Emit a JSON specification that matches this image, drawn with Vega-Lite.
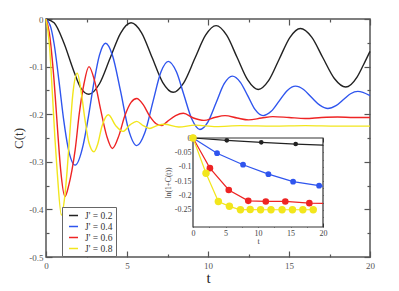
{
  "$schema": "https://vega.github.io/schema/vega-lite/v6.json",
  "width": 324,
  "height": 238,
  "padding": {"left": 46, "top": 19, "right": 29, "bottom": 34},
  "autosize": {"type": "none"},
  "config": {
    "view": {"stroke": "#555", "strokeWidth": 1.5},
    "background": "white"
  },
  "datasets": {
    "main": [
      {"t": 0, "C": 0, "J": "J' = 0.2"}, {"t": 0.5, "C": -0.008, "J": "J' = 0.2"}, {"t": 1.1, "C": -0.05, "J": "J' = 0.2"}, {"t": 1.7, "C": -0.108, "J": "J' = 0.2"}, {"t": 2.15, "C": -0.145, "J": "J' = 0.2"}, {"t": 2.65, "C": -0.158, "J": "J' = 0.2"}, {"t": 3.3, "C": -0.136, "J": "J' = 0.2"}, {"t": 3.95, "C": -0.083, "J": "J' = 0.2"}, {"t": 4.6, "C": -0.03, "J": "J' = 0.2"}, {"t": 5.25, "C": -0.008, "J": "J' = 0.2"}, {"t": 5.9, "C": -0.029, "J": "J' = 0.2"}, {"t": 6.55, "C": -0.081, "J": "J' = 0.2"}, {"t": 7.2, "C": -0.133, "J": "J' = 0.2"}, {"t": 7.85, "C": -0.154, "J": "J' = 0.2"}, {"t": 8.5, "C": -0.134, "J": "J' = 0.2"}, {"t": 9.2, "C": -0.082, "J": "J' = 0.2"}, {"t": 9.85, "C": -0.034, "J": "J' = 0.2"}, {"t": 10.5, "C": -0.014, "J": "J' = 0.2"}, {"t": 11.15, "C": -0.034, "J": "J' = 0.2"}, {"t": 11.8, "C": -0.081, "J": "J' = 0.2"}, {"t": 12.45, "C": -0.128, "J": "J' = 0.2"}, {"t": 13.1, "C": -0.148, "J": "J' = 0.2"}, {"t": 13.75, "C": -0.129, "J": "J' = 0.2"}, {"t": 14.4, "C": -0.084, "J": "J' = 0.2"}, {"t": 15.05, "C": -0.039, "J": "J' = 0.2"}, {"t": 15.7, "C": -0.02, "J": "J' = 0.2"}, {"t": 16.4, "C": -0.038, "J": "J' = 0.2"}, {"t": 17.1, "C": -0.082, "J": "J' = 0.2"}, {"t": 17.8, "C": -0.125, "J": "J' = 0.2"}, {"t": 18.5, "C": -0.143, "J": "J' = 0.2"}, {"t": 19.2, "C": -0.122, "J": "J' = 0.2"}, {"t": 19.6, "C": -0.096, "J": "J' = 0.2"}, {"t": 20, "C": -0.068, "J": "J' = 0.2"},
      {"t": 0, "C": 0, "J": "J' = 0.4"}, {"t": 0.3, "C": -0.018, "J": "J' = 0.4"}, {"t": 0.5, "C": -0.052, "J": "J' = 0.4"}, {"t": 0.8, "C": -0.13, "J": "J' = 0.4"}, {"t": 1.1, "C": -0.214, "J": "J' = 0.4"}, {"t": 1.35, "C": -0.268, "J": "J' = 0.4"}, {"t": 1.8, "C": -0.307, "J": "J' = 0.4"}, {"t": 2.3, "C": -0.264, "J": "J' = 0.4"}, {"t": 2.6, "C": -0.209, "J": "J' = 0.4"}, {"t": 2.96, "C": -0.133, "J": "J' = 0.4"}, {"t": 3.3, "C": -0.076, "J": "J' = 0.4"}, {"t": 3.68, "C": -0.051, "J": "J' = 0.4"}, {"t": 4.1, "C": -0.076, "J": "J' = 0.4"}, {"t": 4.6, "C": -0.151, "J": "J' = 0.4"}, {"t": 5.1, "C": -0.233, "J": "J' = 0.4"}, {"t": 5.6, "C": -0.266, "J": "J' = 0.4"}, {"t": 6.1, "C": -0.239, "J": "J' = 0.4"}, {"t": 6.6, "C": -0.174, "J": "J' = 0.4"}, {"t": 7.1, "C": -0.111, "J": "J' = 0.4"}, {"t": 7.55, "C": -0.089, "J": "J' = 0.4"}, {"t": 8.05, "C": -0.111, "J": "J' = 0.4"}, {"t": 8.5, "C": -0.158, "J": "J' = 0.4"}, {"t": 9.0, "C": -0.21, "J": "J' = 0.4"}, {"t": 9.5, "C": -0.232, "J": "J' = 0.4"}, {"t": 10.0, "C": -0.216, "J": "J' = 0.4"}, {"t": 10.5, "C": -0.176, "J": "J' = 0.4"}, {"t": 11.0, "C": -0.136, "J": "J' = 0.4"}, {"t": 11.5, "C": -0.12, "J": "J' = 0.4"}, {"t": 12.0, "C": -0.133, "J": "J' = 0.4"}, {"t": 12.45, "C": -0.161, "J": "J' = 0.4"}, {"t": 12.9, "C": -0.19, "J": "J' = 0.4"}, {"t": 13.4, "C": -0.203, "J": "J' = 0.4"}, {"t": 13.9, "C": -0.194, "J": "J' = 0.4"}, {"t": 14.4, "C": -0.172, "J": "J' = 0.4"}, {"t": 14.9, "C": -0.15, "J": "J' = 0.4"}, {"t": 15.4, "C": -0.141, "J": "J' = 0.4"}, {"t": 15.9, "C": -0.148, "J": "J' = 0.4"}, {"t": 16.4, "C": -0.165, "J": "J' = 0.4"}, {"t": 16.9, "C": -0.181, "J": "J' = 0.4"}, {"t": 17.4, "C": -0.188, "J": "J' = 0.4"}, {"t": 17.9, "C": -0.182, "J": "J' = 0.4"}, {"t": 18.4, "C": -0.168, "J": "J' = 0.4"}, {"t": 18.8, "C": -0.157, "J": "J' = 0.4"}, {"t": 19.25, "C": -0.152, "J": "J' = 0.4"}, {"t": 20, "C": -0.161, "J": "J' = 0.4"},
      {"t": 0, "C": 0, "J": "J' = 0.6"}, {"t": 0.2, "C": -0.028, "J": "J' = 0.6"}, {"t": 0.5, "C": -0.13, "J": "J' = 0.6"}, {"t": 0.74, "C": -0.245, "J": "J' = 0.6"}, {"t": 0.9, "C": -0.315, "J": "J' = 0.6"}, {"t": 1.17, "C": -0.373, "J": "J' = 0.6"}, {"t": 1.4, "C": -0.35, "J": "J' = 0.6"}, {"t": 1.6, "C": -0.318, "J": "J' = 0.6"}, {"t": 1.8, "C": -0.275, "J": "J' = 0.6"}, {"t": 2.05, "C": -0.2, "J": "J' = 0.6"}, {"t": 2.35, "C": -0.135, "J": "J' = 0.6"}, {"t": 2.65, "C": -0.1, "J": "J' = 0.6"}, {"t": 3.0, "C": -0.13, "J": "J' = 0.6"}, {"t": 3.37, "C": -0.19, "J": "J' = 0.6"}, {"t": 3.75, "C": -0.246, "J": "J' = 0.6"}, {"t": 4.1, "C": -0.272, "J": "J' = 0.6"}, {"t": 4.5, "C": -0.245, "J": "J' = 0.6"}, {"t": 4.85, "C": -0.205, "J": "J' = 0.6"}, {"t": 5.25, "C": -0.175, "J": "J' = 0.6"}, {"t": 5.6, "C": -0.167, "J": "J' = 0.6"}, {"t": 6.0, "C": -0.18, "J": "J' = 0.6"}, {"t": 6.4, "C": -0.204, "J": "J' = 0.6"}, {"t": 6.8, "C": -0.22, "J": "J' = 0.6"}, {"t": 7.14, "C": -0.224, "J": "J' = 0.6"}, {"t": 7.5, "C": -0.215, "J": "J' = 0.6"}, {"t": 8.0, "C": -0.203, "J": "J' = 0.6"}, {"t": 8.48, "C": -0.198, "J": "J' = 0.6"}, {"t": 9.1, "C": -0.208, "J": "J' = 0.6"}, {"t": 9.75, "C": -0.213, "J": "J' = 0.6"}, {"t": 10.4, "C": -0.207, "J": "J' = 0.6"}, {"t": 11.05, "C": -0.203, "J": "J' = 0.6"}, {"t": 11.8, "C": -0.208, "J": "J' = 0.6"}, {"t": 12.5, "C": -0.212, "J": "J' = 0.6"}, {"t": 13.3, "C": -0.208, "J": "J' = 0.6"}, {"t": 14.0, "C": -0.205, "J": "J' = 0.6"}, {"t": 15.0, "C": -0.207, "J": "J' = 0.6"}, {"t": 16.0, "C": -0.209, "J": "J' = 0.6"}, {"t": 17.0, "C": -0.207, "J": "J' = 0.6"}, {"t": 18.0, "C": -0.206, "J": "J' = 0.6"}, {"t": 19.0, "C": -0.207, "J": "J' = 0.6"}, {"t": 20, "C": -0.207, "J": "J' = 0.6"},
      {"t": 0, "C": 0, "J": "J' = 0.8"}, {"t": 0.2, "C": -0.05, "J": "J' = 0.8"}, {"t": 0.4, "C": -0.16, "J": "J' = 0.8"}, {"t": 0.55, "C": -0.25, "J": "J' = 0.8"}, {"t": 0.7, "C": -0.325, "J": "J' = 0.8"}, {"t": 0.95, "C": -0.412, "J": "J' = 0.8"}, {"t": 1.15, "C": -0.375, "J": "J' = 0.8"}, {"t": 1.3, "C": -0.32, "J": "J' = 0.8"}, {"t": 1.45, "C": -0.25, "J": "J' = 0.8"}, {"t": 1.65, "C": -0.16, "J": "J' = 0.8"}, {"t": 1.93, "C": -0.114, "J": "J' = 0.8"}, {"t": 2.2, "C": -0.16, "J": "J' = 0.8"}, {"t": 2.4, "C": -0.21, "J": "J' = 0.8"}, {"t": 2.65, "C": -0.26, "J": "J' = 0.8"}, {"t": 2.96, "C": -0.279, "J": "J' = 0.8"}, {"t": 3.2, "C": -0.262, "J": "J' = 0.8"}, {"t": 3.45, "C": -0.226, "J": "J' = 0.8"}, {"t": 3.85, "C": -0.201, "J": "J' = 0.8"}, {"t": 4.3, "C": -0.224, "J": "J' = 0.8"}, {"t": 4.75, "C": -0.236, "J": "J' = 0.8"}, {"t": 5.2, "C": -0.222, "J": "J' = 0.8"}, {"t": 5.6, "C": -0.215, "J": "J' = 0.8"}, {"t": 6.0, "C": -0.224, "J": "J' = 0.8"}, {"t": 6.4, "C": -0.23, "J": "J' = 0.8"}, {"t": 6.85, "C": -0.224, "J": "J' = 0.8"}, {"t": 7.3, "C": -0.221, "J": "J' = 0.8"}, {"t": 8.2, "C": -0.227, "J": "J' = 0.8"}, {"t": 9.2, "C": -0.223, "J": "J' = 0.8"}, {"t": 10.5, "C": -0.226, "J": "J' = 0.8"}, {"t": 12, "C": -0.224, "J": "J' = 0.8"}, {"t": 14, "C": -0.225, "J": "J' = 0.8"}, {"t": 16, "C": -0.224, "J": "J' = 0.8"}, {"t": 18, "C": -0.225, "J": "J' = 0.8"}, {"t": 20, "C": -0.225, "J": "J' = 0.8"}
    ],
    "inset": [
      {"ti": 0, "L": 0, "J": "J' = 0.2", "dot": false}, {"ti": 5.2, "L": -0.008, "J": "J' = 0.2", "dot": true}, {"ti": 10.5, "L": -0.015, "J": "J' = 0.2", "dot": true}, {"ti": 15.8, "L": -0.021, "J": "J' = 0.2", "dot": true}, {"ti": 20, "L": -0.025, "J": "J' = 0.2", "dot": false},
      {"ti": 0, "L": 0, "J": "J' = 0.4", "dot": true}, {"ti": 3.7, "L": -0.053, "J": "J' = 0.4", "dot": true}, {"ti": 7.7, "L": -0.093, "J": "J' = 0.4", "dot": true}, {"ti": 11.6, "L": -0.126, "J": "J' = 0.4", "dot": true}, {"ti": 15.4, "L": -0.152, "J": "J' = 0.4", "dot": true}, {"ti": 19.4, "L": -0.166, "J": "J' = 0.4", "dot": true}, {"ti": 20, "L": -0.168, "J": "J' = 0.4", "dot": false},
      {"ti": 0, "L": 0, "J": "J' = 0.6", "dot": true}, {"ti": 2.6, "L": -0.105, "J": "J' = 0.6", "dot": true}, {"ti": 5.5, "L": -0.181, "J": "J' = 0.6", "dot": true}, {"ti": 8.5, "L": -0.219, "J": "J' = 0.6", "dot": true}, {"ti": 11.2, "L": -0.221, "J": "J' = 0.6", "dot": true}, {"ti": 14.2, "L": -0.221, "J": "J' = 0.6", "dot": true}, {"ti": 17.9, "L": -0.227, "J": "J' = 0.6", "dot": true}, {"ti": 20, "L": -0.228, "J": "J' = 0.6", "dot": false},
      {"ti": 0, "L": 0, "J": "J' = 0.8", "dot": true}, {"ti": 2.0, "L": -0.123, "J": "J' = 0.8", "dot": true}, {"ti": 3.9, "L": -0.221, "J": "J' = 0.8", "dot": true}, {"ti": 5.6, "L": -0.238, "J": "J' = 0.8", "dot": true}, {"ti": 7.3, "L": -0.25, "J": "J' = 0.8", "dot": true}, {"ti": 8.8, "L": -0.249, "J": "J' = 0.8", "dot": true}, {"ti": 10.4, "L": -0.25, "J": "J' = 0.8", "dot": true}, {"ti": 12.0, "L": -0.25, "J": "J' = 0.8", "dot": true}, {"ti": 13.7, "L": -0.25, "J": "J' = 0.8", "dot": true}, {"ti": 15.3, "L": -0.25, "J": "J' = 0.8", "dot": true}, {"ti": 16.9, "L": -0.25, "J": "J' = 0.8", "dot": true}, {"ti": 18.5, "L": -0.25, "J": "J' = 0.8", "dot": true}
    ],
    "frame": [{"x0": 0, "x1": 20, "y0": -0.31, "y1": 0}]
  },
  "layer": [
    {
      "data": {"name": "main"},
      "layer": [
        {
          "mark": {"type": "line", "strokeWidth": 1.4, "interpolate": "monotone"},
          "encoding": {
            "x": {"field": "t", "type": "quantitative", "scale": {"domain": [0, 20], "nice": false},
              "axis": {"orient": "bottom", "values": [0, 2.5, 5, 7.5, 10, 12.5, 15, 17.5, 20], "domain": false, "grid": false,
                "tickSize": {"condition": {"test": "datum.value % 5 == 0", "value": -6}, "value": -3},
                "tickColor": "#555", "tickWidth": 1.2, "labelExpr": "datum.value % 5 == 0 ? datum.label : ''",
                "labelFlush": false, "labelFont": "Liberation Serif", "labelFontSize": 9, "labelColor": "#555", "labelPadding": 10,
                "title": "t", "titleFont": "Liberation Serif", "titleFontSize": 15, "titleFontWeight": "normal", "titleColor": "#222", "titlePadding": 0}},
            "y": {"field": "C", "type": "quantitative", "scale": {"domain": [-0.5, 0], "nice": false},
              "axis": {"orient": "left", "values": [0, -0.05, -0.1, -0.15, -0.2, -0.25, -0.3, -0.35, -0.4, -0.45, -0.5], "domain": false, "grid": false,
                "tickSize": {"condition": {"test": "round(abs(datum.value)*100) % 10 == 0", "value": -6}, "value": -3},
                "tickColor": "#555", "tickWidth": 1.2,
                "labelExpr": "round(abs(datum.value)*100) % 10 == 0 ? (datum.value == 0 ? '0' : '-' + format(abs(datum.value), '.1f')) : ''",
                "labelFlush": false, "labelFont": "Liberation Serif", "labelFontSize": 9, "labelColor": "#555", "labelPadding": 9,
                "title": "C(t)", "titleFont": "Liberation Serif", "titleFontSize": 13, "titleFontWeight": "normal", "titleColor": "#333", "titlePadding": 3}},
            "color": {"field": "J", "type": "nominal",
              "scale": {"domain": ["J' = 0.2", "J' = 0.4", "J' = 0.6", "J' = 0.8"], "range": ["#222222", "#2f55ee", "#ee2424", "#f2e61c"]},
              "legend": {"orient": "none", "legendX": 16, "legendY": 188, "title": null, "symbolType": "stroke", "symbolSize": 81,
                "symbolStrokeWidth": 1.5, "labelFont": "Liberation Serif", "labelFontSize": 9.5, "labelColor": "#333",
                "fillColor": "white", "strokeColor": "#666", "padding": 3, "symbolOffset": 3, "rowPadding": 1, "labelOffset": 6}}
          }
        },
        {
          "mark": {"type": "line", "strokeOpacity": 0},
          "encoding": {
            "detail": {"field": "J"},
            "x": {"field": "t", "type": "quantitative",
              "axis": {"orient": "top", "values": [0, 2.5, 5, 7.5, 10, 12.5, 15, 17.5, 20], "domain": false, "grid": false, "labels": false, "title": null,
                "tickSize": {"condition": {"test": "datum.value % 5 == 0", "value": -6}, "value": -3}, "tickColor": "#555", "tickWidth": 1.2}},
            "y": {"field": "C", "type": "quantitative",
              "axis": {"orient": "right", "values": [0, -0.05, -0.1, -0.15, -0.2, -0.25, -0.3, -0.35, -0.4, -0.45, -0.5], "domain": false, "grid": false, "labels": false, "title": null,
                "tickSize": {"condition": {"test": "round(abs(datum.value)*100) % 10 == 0", "value": -6}, "value": -3}, "tickColor": "#555", "tickWidth": 1.2}}
          }
        }
      ],
      "resolve": {"axis": {"x": "independent", "y": "independent"}}
    },
    {
      "layer": [
        {
          "data": {"name": "frame"},
          "mark": {"type": "rect", "fill": "white", "stroke": "#333", "strokeWidth": 1.2},
          "encoding": {
            "x": {"field": "x0", "type": "quantitative", "scale": {"domain": [0, 20], "range": [147, 277], "nice": false, "zero": false},
              "axis": {"orient": "bottom", "offset": -30, "values": [0, 2.5, 5, 7.5, 10, 12.5, 15, 17.5, 20], "domain": false, "grid": false,
                "tickSize": {"condition": {"test": "datum.value % 5 == 0", "value": -4}, "value": -2},
                "tickColor": "#333", "tickWidth": 1, "labelExpr": "datum.value % 5 == 0 ? datum.label : ''",
                "labelFlush": false, "labelFont": "Liberation Serif", "labelFontSize": 8, "labelColor": "#444", "labelPadding": 6,
                "title": "t", "titleFont": "Liberation Serif", "titleFontSize": 8, "titleFontWeight": "normal", "titleColor": "#444", "titlePadding": 0}},
            "x2": {"field": "x1"},
            "y": {"field": "y0", "type": "quantitative", "scale": {"domain": [-0.31, 0], "range": [208, 119], "nice": false, "zero": false},
              "axis": {"orient": "left", "offset": -147, "values": [0, -0.025, -0.05, -0.075, -0.1, -0.125, -0.15, -0.175, -0.2, -0.225, -0.25, -0.275, -0.3], "domain": false, "grid": false,
                "tickSize": {"condition": {"test": "round(abs(datum.value)*1000) % 50 == 0", "value": -4}, "value": -2},
                "tickColor": "#333", "tickWidth": 1,
                "labelExpr": "round(abs(datum.value)*1000) % 50 == 0 && abs(datum.value) < 0.28 ? (datum.value == 0 ? '0' : '-' + format(abs(datum.value), '.2~f')) : ''",
                "labelFlush": false, "labelFont": "Liberation Serif", "labelFontSize": 8, "labelColor": "#444", "labelPadding": 6,
                "title": "ln(1+C(t))", "titleFont": "Liberation Serif", "titleFontSize": 7.5, "titleFontWeight": "normal", "titleColor": "#444", "titlePadding": 2}},
            "y2": {"field": "y1"}
          }
        },
        {
          "data": {"name": "frame"},
          "mark": {"type": "rect", "fillOpacity": 0, "strokeOpacity": 0},
          "encoding": {
            "x": {"field": "x0", "type": "quantitative",
              "axis": {"orient": "top", "offset": -119, "values": [0, 2.5, 5, 7.5, 10, 12.5, 15, 17.5, 20], "domain": false, "grid": false, "labels": false, "title": null,
                "tickSize": {"condition": {"test": "datum.value % 5 == 0", "value": -4}, "value": -2}, "tickColor": "#333", "tickWidth": 1}},
            "x2": {"field": "x1"},
            "y": {"field": "y0", "type": "quantitative",
              "axis": {"orient": "right", "offset": -47, "values": [0, -0.025, -0.05, -0.075, -0.1, -0.125, -0.15, -0.175, -0.2, -0.225, -0.25, -0.275, -0.3], "domain": false, "grid": false, "labels": false, "title": null,
                "tickSize": {"condition": {"test": "round(abs(datum.value)*1000) % 50 == 0", "value": -4}, "value": -2}, "tickColor": "#333", "tickWidth": 1}},
            "y2": {"field": "y1"}
          }
        },
        {
          "data": {"name": "inset"},
          "mark": {"type": "line", "strokeWidth": 1.2},
          "encoding": {
            "x": {"field": "ti", "type": "quantitative", "axis": null},
            "y": {"field": "L", "type": "quantitative", "axis": null},
            "color": {"field": "J", "type": "nominal", "legend": null,
              "scale": {"domain": ["J' = 0.2", "J' = 0.4", "J' = 0.6", "J' = 0.8"], "range": ["#222222", "#2f55ee", "#ee2424", "#f2e61c"]}}
          }
        },
        {
          "data": {"name": "inset"},
          "transform": [{"filter": "datum.dot"}],
          "mark": {"type": "circle", "opacity": 1},
          "encoding": {
            "x": {"field": "ti", "type": "quantitative", "axis": null},
            "y": {"field": "L", "type": "quantitative", "axis": null},
            "color": {"field": "J", "type": "nominal", "legend": null},
            "size": {"field": "J", "type": "ordinal", "legend": null,
              "scale": {"domain": ["J' = 0.2", "J' = 0.4", "J' = 0.6", "J' = 0.8"], "range": [22, 55, 55, 55]}}
          }
        }
      ],
      "resolve": {"axis": {"x": "independent", "y": "independent"}}
    }
  ],
  "resolve": {"scale": {"x": "independent", "y": "independent", "color": "independent"}}
}
